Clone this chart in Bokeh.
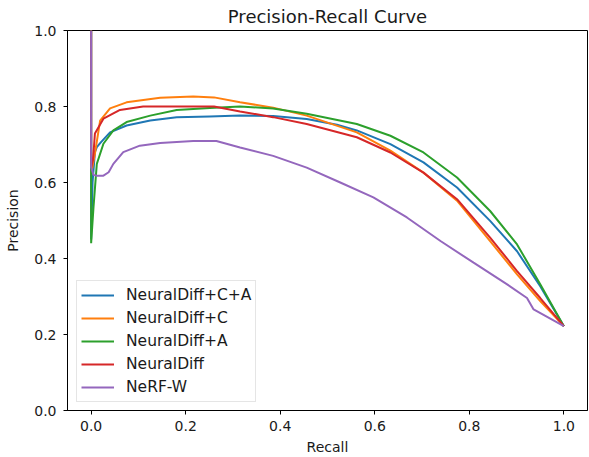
from bokeh.plotting import figure
from bokeh.models import Range1d, FixedTicker, NumeralTickFormatter
from bokeh.embed import file_html
from bokeh.resources import INLINE

# ---- data ----
series_names = ["NeuralDiff+C+A", "NeuralDiff+C", "NeuralDiff+A", "NeuralDiff", "NeRF-W"]

recall_cA = [0, 0, 0.003, 0.008, 0.012, 0.02, 0.04, 0.075, 0.125, 0.181, 0.251, 0.315, 0.385, 0.456, 0.52, 0.562, 0.633, 0.703, 0.774, 0.844, 0.901, 0.95, 1.0]
prec_cA = [1.0, 0.45, 0.6, 0.68, 0.693, 0.705, 0.732, 0.75, 0.763, 0.772, 0.774, 0.776, 0.775, 0.767, 0.752, 0.737, 0.701, 0.653, 0.587, 0.499, 0.419, 0.327, 0.222]

recall_c = [0, 0, 0.004, 0.008, 0.019, 0.04, 0.075, 0.146, 0.216, 0.26, 0.315, 0.385, 0.456, 0.562, 0.633, 0.703, 0.774, 0.844, 0.901, 0.95, 1.0]
prec_c = [1.0, 0.62, 0.65, 0.676, 0.763, 0.795, 0.811, 0.823, 0.826, 0.824, 0.811, 0.797, 0.776, 0.732, 0.684, 0.626, 0.552, 0.446, 0.358, 0.288, 0.222]

recall_a = [0, 0, 0.005, 0.012, 0.026, 0.047, 0.075, 0.125, 0.181, 0.251, 0.315, 0.385, 0.456, 0.562, 0.633, 0.703, 0.774, 0.844, 0.901, 0.95, 1.0]
prec_a = [1.0, 0.44, 0.535, 0.649, 0.702, 0.737, 0.759, 0.776, 0.791, 0.796, 0.80, 0.795, 0.781, 0.754, 0.723, 0.679, 0.613, 0.525, 0.437, 0.332, 0.222]

recall_nd = [0, 0, 0.004, 0.008, 0.026, 0.061, 0.11, 0.216, 0.26, 0.315, 0.385, 0.456, 0.562, 0.633, 0.703, 0.774, 0.844, 0.901, 0.95, 1.0]
prec_nd = [1.0, 0.64, 0.66, 0.729, 0.768, 0.791, 0.80, 0.80, 0.80, 0.787, 0.772, 0.754, 0.719, 0.679, 0.626, 0.556, 0.455, 0.367, 0.296, 0.222]

recall_w = [0, 0, 0.005, 0.012, 0.026, 0.037, 0.047, 0.068, 0.103, 0.146, 0.216, 0.265, 0.315, 0.385, 0.456, 0.527, 0.597, 0.668, 0.739, 0.809, 0.88, 0.922, 0.936, 1.0]
prec_w = [1.0, 0.64, 0.62, 0.618, 0.618, 0.627, 0.649, 0.68, 0.697, 0.704, 0.709, 0.709, 0.692, 0.670, 0.639, 0.6, 0.561, 0.508, 0.446, 0.389, 0.332, 0.296, 0.266, 0.222]

x_ticks = [0.0, 0.2, 0.4, 0.6, 0.8, 1.0]
y_ticks = [0.0, 0.2, 0.4, 0.6, 0.8, 1.0]

colors = ["#1f77b4", "#ff7f0e", "#2ca02c", "#d62728", "#9467bd"]
FONT = "DejaVu Sans"
TXT = "#1a1a1a"

p = figure(width=589, height=457, output_backend="svg", toolbar_location=None,
           title="Precision-Recall Curve",
           x_range=Range1d(-0.05, 1.05), y_range=Range1d(0, 1),
           min_border_left=67, min_border_right=2, min_border_top=30, min_border_bottom=47)

p.background_fill_color = "white"
p.border_fill_color = "white"
p.outline_line_color = "black"
p.outline_line_width = 1
p.xgrid.visible = False
p.ygrid.visible = False

p.title.align = "center"
p.title.text_font = FONT
p.title.text_font_size = "18px"
p.title.text_font_style = "normal"
p.title.text_color = TXT
p.title.standoff = 7

series = [(recall_cA, prec_cA), (recall_c, prec_c), (recall_a, prec_a), (recall_nd, prec_nd), (recall_w, prec_w)]
for (r, pr), name, col in zip(series, series_names, colors):
    p.line(r, pr, line_color=col, line_width=2, legend_label=name)

for ax, ticks, lbl in ((p.xaxis[0], x_ticks, "Recall"), (p.yaxis[0], y_ticks, "Precision")):
    ax.ticker = FixedTicker(ticks=ticks)
    ax.formatter = NumeralTickFormatter(format="0.0")
    ax.axis_label = lbl
    ax.axis_label_text_font = FONT
    ax.axis_label_text_font_size = "14px"
    ax.axis_label_text_font_style = "normal"
    ax.axis_label_text_color = TXT
    ax.major_label_text_font = FONT
    ax.major_label_text_font_size = "14px"
    ax.major_label_text_color = TXT
    ax.major_tick_in = 0
    ax.major_tick_out = 4
    ax.minor_tick_line_color = None
    ax.axis_line_color = "black"
    ax.major_tick_line_color = "black"

p.xaxis[0].major_label_standoff = 6
p.xaxis[0].axis_label_standoff = 5
p.yaxis[0].major_label_standoff = 7
p.yaxis[0].axis_label_standoff = 10

leg = p.legend[0]
leg.location = (9, 8)
leg.label_text_font = FONT
leg.label_text_font_size = "15.5px"
leg.label_text_color = TXT
leg.glyph_width = 33
leg.glyph_height = 20
leg.label_height = 20
leg.label_standoff = 12
leg.spacing = 3
leg.padding = 4
leg.margin = 0
leg.border_line_color = "#cccccc"
leg.border_line_width = 1
leg.background_fill_alpha = 0.8

open("out.html", "w").write(file_html(p, INLINE))
